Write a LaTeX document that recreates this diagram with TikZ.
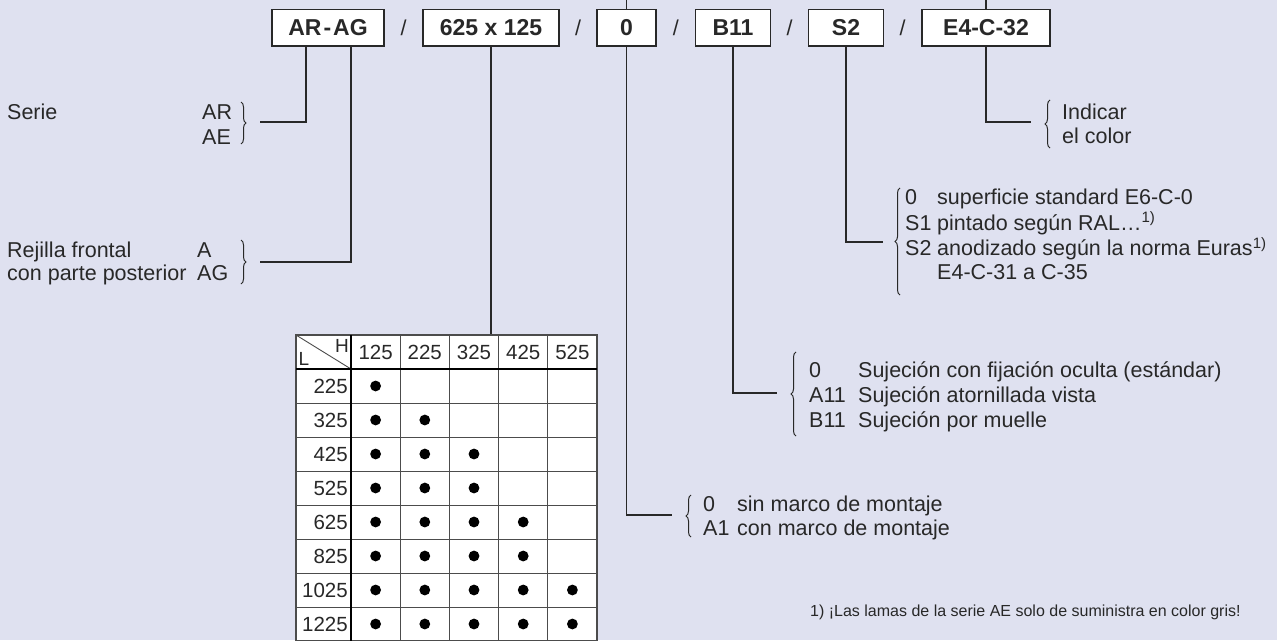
\documentclass[tikz,border=0pt]{standalone}
\usepackage{fontspec}
\setmainfont{Liberation Sans}
\usetikzlibrary{positioning,calc,decorations.pathreplacing}
\definecolor{paper}{RGB}{223,225,240}
\definecolor{ink}{RGB}{40,40,40}

\begin{document}
\begin{tikzpicture}[
  x=1pt, y=-1pt,
  font=\fontsize{21.5}{24}\selectfont,
  codebox/.style={draw=ink, fill=white, line width=1.2pt, minimum height=36.5pt, inner sep=0pt, text=ink, font=\fontsize{23}{26}\selectfont\bfseries},
  slash/.style={inner sep=0pt, text=ink},
  lead/.style={draw=ink, line width=1.2pt},
  curly/.style={draw=ink, line width=1pt, decorate, decoration={brace, amplitude=5pt}},
  note/.style={inner sep=0pt, anchor=base west, text=ink},
  rule/.style={draw=gray!60!black, line width=0.9pt},
  heavy/.style={draw=black, line width=2.4pt},
  cell/.style={inner sep=0pt, text=ink, font=\fontsize{20.5}{24}\selectfont},
  bullet/.style={fill=black}
]
\fill[paper] (0,0) rectangle (1277,640);
\useasboundingbox (0,0) rectangle (1277,640);

\node[codebox, minimum width=112pt] (series) at (328,27.75) {AR\hspace{2pt}-\hspace{2pt}AG};
\node[codebox, minimum width=136pt] (size) at (491,27.75) {625 x 125};
\node[codebox, minimum width=59pt] (frame) at (626.5,27.75) {0};
\node[codebox, minimum width=75pt] (fixing) at (733,27.75) {B11};
\node[codebox, minimum width=74.5pt] (surface) at (846,27.75) {S2};
\node[codebox, minimum width=128pt] (colour) at (986,27.75) {E4-C-32};

\node[slash] (sl1) at ($(series.east)!0.5!(size.west)$) {/};
\node[slash] (sl2) at ($(size.east)!0.5!(frame.west)$) {/};
\node[slash] (sl3) at ($(frame.east)!0.5!(fixing.west)$) {/};
\node[slash] (sl4) at ($(fixing.east)!0.5!(surface.west)$) {/};
\node[slash] (sl5) at ($(surface.east)!0.5!(colour.west)$) {/};

\coordinate (upper) at (0,0);
\coordinate (tablenw) at (296,335);
\coordinate (serietip) at (260,122);
\coordinate (grilletip) at (260,262);
\coordinate (frametip) at (672,515);
\coordinate (fixtip) at (777,393);
\coordinate (surftip) at (883,242);
\coordinate (colourtip) at (1031,122);

\draw[lead] ([xshift=-22pt]series.south) |- (serietip);
\draw[lead] ([xshift=23pt]series.south) |- (grilletip);
\draw[lead] (size.south) -- (size.south |- tablenw);
\draw[lead] (frame.north) -- (frame.north |- upper);
\draw[lead] (frame.south) |- (frametip);
\draw[lead] (fixing.south) |- (fixtip);
\draw[lead] (surface.south) |- (surftip);
\draw[lead] (colour.north) -- (colour.north |- upper);
\draw[lead] (colour.south) |- (colourtip);

\draw[curly] (241,102) -- (241,144);
\draw[curly] (241,240) -- (241,284);
\draw[curly] (691,537) -- (691,495);
\draw[curly] (796,436) -- (796,352);
\draw[curly] (900,295) -- (900,188);
\draw[curly] (1050,148) -- (1050,100);

\node[note] (serie) at (7,119.7) {Serie};
\node[note] (ar) at (202,119.7) {AR};
\node[note] (ae) at (202,144.7) {AE};
\node[note] (grille) at (7,257) {Rejilla frontal};
\node[note] (grilleback) at (7,280) {con parte posterior};
\node[note] (ga) at (197,257) {A};
\node[note] (gag) at (197,280) {AG};

\node[note] (colourtext) at (1062,119.7) {\begin{tabular}[t]{@{}l@{}}Indicar\\ el color\end{tabular}};
\node[note] (surflist) at (905,204.7) {\begin{tabular}[t]{@{}p{32pt}@{}l@{}}
  0 & superficie standard E6-C-0\\
  S1 & pintado según RAL…\textsuperscript{1)}\\
  S2 & anodizado según la norma Euras\textsuperscript{1)}\\
     & E4-C-31 a C-35\end{tabular}};
\node[note] (fixlist) at (809,377.7) {\begin{tabular}[t]{@{}p{49pt}@{}l@{}}
  0 & Sujeción con fijación oculta (estándar)\\[1pt]
  A11 & Sujeción atornillada vista\\[1pt]
  B11 & Sujeción por muelle\end{tabular}};
\node[note] (framelist) at (703,511.7) {\begin{tabular}[t]{@{}p{34pt}@{}l@{}}
  0 & sin marco de montaje\\
  A1 & con marco de montaje\end{tabular}};

\node[note, font=\fontsize{16}{18}\selectfont] (footnote) at (810,616.5) {1) ¡Las lamas de la serie AE solo de suministra en color gris!};

\fill[white] (296,335) rectangle (597,641);
\foreach \j in {2,...,8} \draw[rule] (296,{335+34*\j}) -- (597,{335+34*\j});
\foreach \i in {2,...,5} \draw[rule] ({351+49.2*(\i-1)},335) -- ({351+49.2*(\i-1)},641);
\draw[rule] (296,335) -- (351,369);
\draw[rule, line width=1.2pt] (296,335) rectangle (597,641);
\draw[heavy] (296,369) -- (597,369);
\draw[heavy] (351,335) -- (351,641);
\node[cell, font=\fontsize{19}{20}\selectfont] (hcorner) at (342,346) {H};
\node[cell, font=\fontsize{19}{20}\selectfont] (lcorner) at (304,359) {L};
\foreach \h [count=\i] in {125,225,325,425,525}
  \node[cell] (h\i) at ({351+49.2*(\i-0.5)},352) {\h};
\foreach \lab/\n [count=\j] in {225/1,325/2,425/3,525/3,625/4,825/4,1025/5,1225/5} {
  \node[cell, anchor=east] (l\j) at (348,{352+34*\j}) {\lab};
  \foreach \k in {1,...,\n}
    \fill[bullet] ({351+49.2*(\k-0.5)},{352+34*\j}) circle[radius=5.4pt];
}
\end{tikzpicture}
\end{document}
